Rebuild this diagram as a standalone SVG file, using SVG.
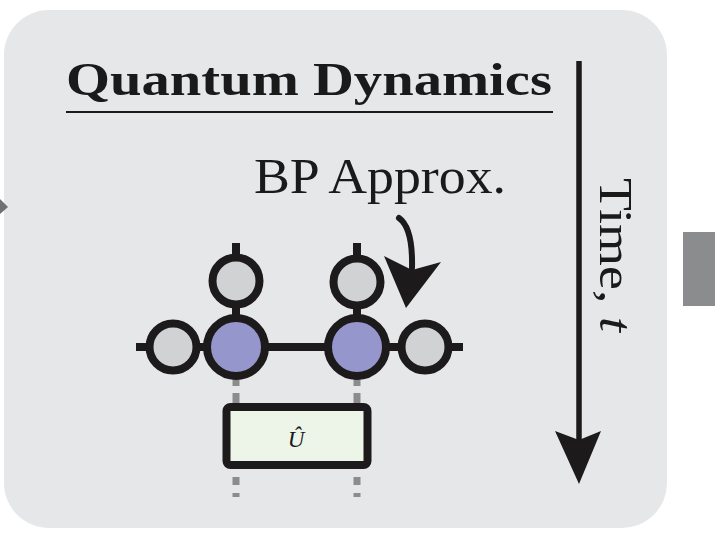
<svg xmlns="http://www.w3.org/2000/svg" width="715" height="550" viewBox="0 0 715 550">
<style>
.bg{fill:#e6e7e8}
.ttl{font-family:"Liberation Serif","DejaVu Serif",serif;fill:#1a1a1a}
.blk{stroke:#1c1a1b;stroke-width:8}
.gray{fill:#d1d2d4}
.purp{fill:#9596cb}
.dash{stroke:#8c8c8c;stroke-width:7}
</style>
<rect width="715" height="550" fill="#ffffff"/>
<rect class="bg" x="4" y="10" width="663" height="518" rx="45"/>
<polygon points="0,199 8,207 0,214" fill="#6f7072"/>
<rect x="683" y="232" width="32" height="74" fill="#8b8c8e"/>
<g id="title">
<text class="ttl" x="66" y="95" font-size="47" font-weight="bold" textLength="486" lengthAdjust="spacingAndGlyphs">Quantum Dynamics</text>
<line x1="66" y1="112" x2="553" y2="112" stroke="#1a1a1a" stroke-width="2.2"/>
</g>
<g id="time-axis">
<line x1="579" y1="61" x2="579" y2="442" stroke="#1c1a1b" stroke-width="5.5"/>
<polygon points="555,431 579,440 601,431 579,484" fill="#1c1a1b"/>
<text class="ttl" transform="translate(600,178) rotate(90)" font-size="46" textLength="154" lengthAdjust="spacingAndGlyphs">Time, <tspan font-style="italic">t</tspan></text>
</g>
<g id="bp-label">
<text class="ttl" x="254" y="193" font-size="51" textLength="252" lengthAdjust="spacingAndGlyphs">BP Approx.</text>
<path d="M399,218 Q413,228 412,268" fill="none" stroke="#1c1a1b" stroke-width="6" stroke-linecap="round"/>
<polygon points="384,256 412,270 441,262 406,308" fill="#1c1a1b"/>
</g>
<g id="connectors">
<line x1="136" y1="347" x2="463" y2="347" class="blk" stroke-width="7"/>
<line x1="236" y1="243" x2="236" y2="347" class="blk" stroke-width="7"/>
<line x1="357" y1="243" x2="357" y2="347" class="blk" stroke-width="7"/>
<line x1="236" y1="378" x2="236" y2="386" class="dash"/>
<line x1="236" y1="393" x2="236" y2="404" class="dash"/>
<line x1="357" y1="378" x2="357" y2="386" class="dash"/>
<line x1="357" y1="393" x2="357" y2="404" class="dash"/>
<line x1="236" y1="477" x2="236" y2="485" class="dash"/>
<line x1="236" y1="493" x2="236" y2="497" class="dash"/>
<line x1="357" y1="477" x2="357" y2="485" class="dash"/>
<line x1="357" y1="493" x2="357" y2="497" class="dash"/>
</g>
<g id="node-left"><circle class="blk gray" cx="173" cy="347" r="23.5"/></g>
<g id="node-top-left"><circle class="blk gray" cx="236" cy="281" r="23.5"/></g>
<g id="node-top-right"><circle class="blk gray" cx="357" cy="282" r="23.5"/></g>
<g id="node-right"><circle class="blk gray" cx="425" cy="347" r="23.5"/></g>
<g id="node-purple-left"><circle class="blk purp" cx="236" cy="347" r="29"/></g>
<g id="node-purple-right"><circle class="blk purp" cx="357" cy="347" r="29"/></g>
<g id="gate-U">
<rect class="blk" x="226.5" y="407" width="141" height="58" rx="4" fill="#edf5e9"/>
<text class="ttl" x="296" y="447" font-size="23" font-style="italic" text-anchor="middle">Û</text>
</g>
</svg>
